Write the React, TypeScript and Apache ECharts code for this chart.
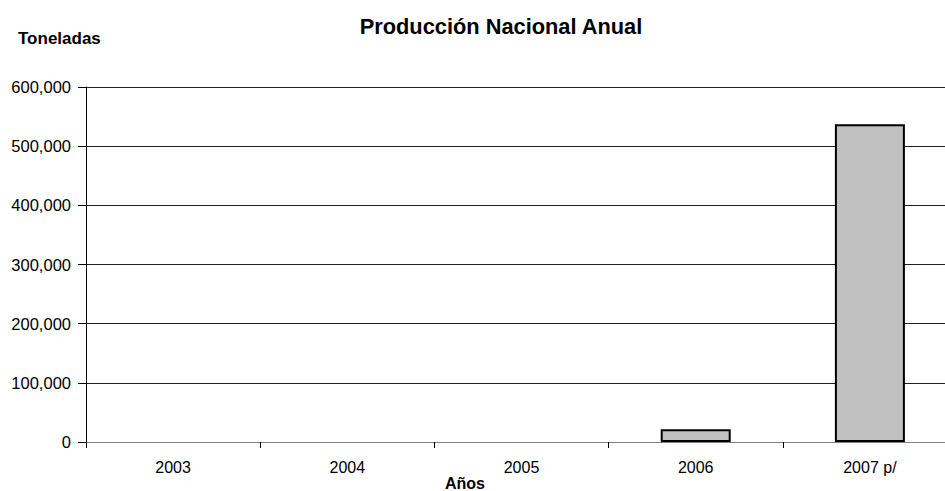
import React, { useEffect, useRef } from "react";
import * as echarts from "echarts";

const categories = ["2003", "2004", "2005", "2006", "2007 p/"];
const production = [0, 0, 0, 21500, 537000];
const yTicks = [0, 100000, 200000, 300000, 400000, 500000, 600000];

export default function App() {
  const ref = useRef<HTMLDivElement>(null);
  useEffect(() => {
    if (!ref.current) return;
    const chart = echarts.init(ref.current, null, { renderer: "svg" });
    const font = "'Liberation Sans', Arial, sans-serif";
    chart.setOption({
      animation: false,
      backgroundColor: "#ffffff",
      textStyle: { fontFamily: font },
      title: {
        text: "Producción Nacional Anual",
        left: 496,
        top: 10,
        textAlign: "center",
        textStyle: { fontFamily: font, fontSize: 21.8, fontWeight: "bold", color: "#000" },
      },
      graphic: [
        {
          type: "text",
          left: 18,
          top: 30,
          style: { text: "Toneladas", font: `bold 17px ${font}`, fill: "#000" },
        },
        {
          type: "text",
          left: 445,
          top: 475,
          style: { text: "Años", font: `bold 16px ${font}`, fill: "#000" },
        },
      ],
      grid: {
        left: 86,
        width: 871,
        top: 87,
        height: 355,
        containLabel: false,
        outerBoundsMode: "none",
      },
      xAxis: {
        type: "category",
        data: categories,
        axisLine: { lineStyle: { color: "#808080", width: 1 } },
        axisTick: { show: true, alignWithLabel: false, length: 6, lineStyle: { color: "#000" } },
        axisLabel: { color: "#000", fontSize: 16, fontFamily: font, margin: 17 },
      },
      yAxis: {
        type: "value",
        min: yTicks[0],
        max: yTicks[yTicks.length - 1],
        interval: yTicks[1] - yTicks[0],
        axisLine: { show: true, lineStyle: { color: "#000", width: 1 } },
        axisTick: { show: true, length: 8, lineStyle: { color: "#000" } },
        splitLine: { show: true, lineStyle: { color: "#222", width: 1 } },
        axisLabel: {
          color: "#000",
          fontSize: 16.5,
          fontFamily: font,
          margin: 15,
          formatter: (v: number) => v.toLocaleString("en-US"),
        },
      },
      series: [
        {
          type: "bar",
          data: production.map((v) => ({
            value: v,
            itemStyle: { borderWidth: v === 0 ? 0 : 2 },
          })),
          barWidth: 70,
          itemStyle: { color: "#c0c0c0", borderColor: "#000", borderWidth: 2 },
        },
      ],
    });
    return () => chart.dispose();
  }, []);
  return <div ref={ref} style={{ width: 945, height: 491, position: "absolute", left: 0, top: 0 }} />;
}
